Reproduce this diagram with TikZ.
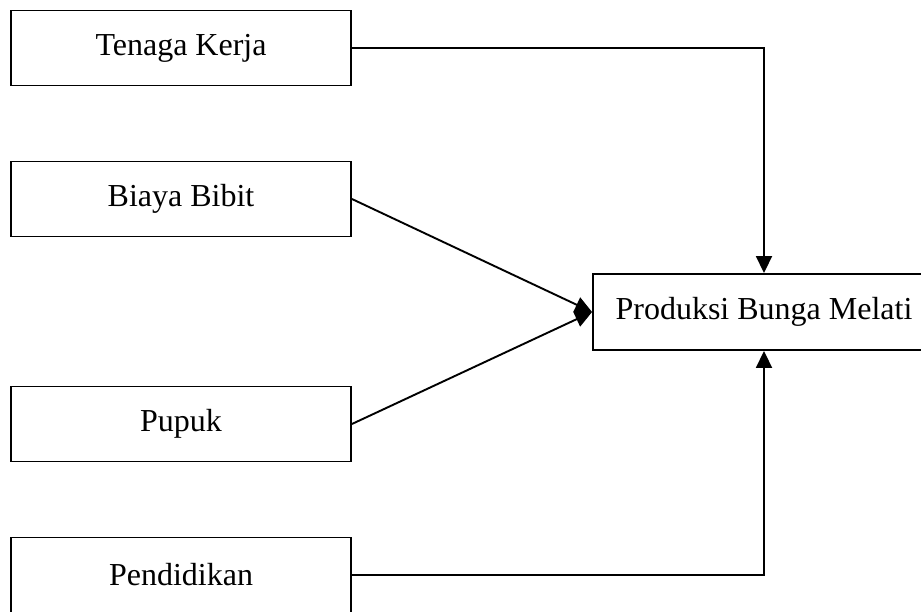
\documentclass[tikz,border=0pt]{standalone}
\usepackage{fontspec}
\setmainfont{Liberation Serif}
\usetikzlibrary{arrows.meta}
\begin{document}
\begin{tikzpicture}[x=1pt, y=-1pt, line join=miter, >={Triangle[length=17pt,width=16pt]},
	kotak/.style={draw, line width=1.9pt, inner sep=0pt, minimum width=340pt, minimum height=75pt, font=\fontsize{32}{38}\selectfont},
	panah/.style={->, line width=1.9pt}]
	\clip (0,0) rectangle (921,612);
	\path (181,48) node[kotak] (tk) {Tenaga Kerja}
	(181,199) node[kotak] (bb) {Biaya Bibit}
	(181,424) node[kotak] (pp) {Pupuk}
	(181,575) node[kotak] (pd) {Pendidikan}
	(764,312) node[kotak, minimum width=342pt, minimum height=76pt] (prod) {Produksi Bunga Melati};
	\draw[panah] (tk.east) -| (prod.north);
	\draw[panah] (pd.east) -| (prod.south);
	\foreach \asal in {bb, pp} \draw[panah] (\asal.east) -- (prod.west);
\end{tikzpicture}
\end{document}
